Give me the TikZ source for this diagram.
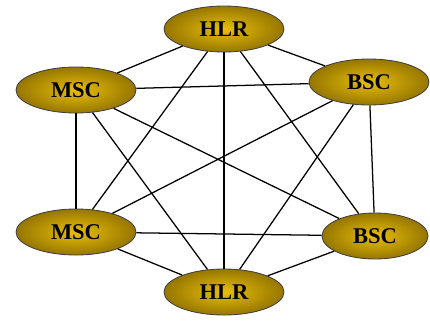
\documentclass[tikz,border=0pt]{standalone}
\usepackage{fontspec}
\setmainfont{Liberation Serif}
\usepackage{tikz}
\usetikzlibrary{positioning,shapes.geometric}

\definecolor{goldin}{RGB}{232,190,10}
\definecolor{goldout}{RGB}{150,118,0}

\begin{document}
\begin{tikzpicture}[-,line width=0.9pt,node distance=1.5 cm,on grid,
  hub/.style={ellipse,draw=black!75,line width=0.6pt,inner color=goldin,outer color=goldout,
    minimum width=3cm,minimum height=1.15cm,inner sep=0pt,
    font=\fontsize{16}{18}\selectfont\bfseries}]
  \useasboundingbox (-5.6,-7.325) rectangle (5.15,0.725);
  \node [hub] (hlr1) {HLR};
  \node [hub,below left=1.525cm and 3.7cm of hlr1] (msc1) {MSC};
  \node [hub,below right=1.325cm and 3.625cm of hlr1] (bsc1) {BSC};
  \node [hub,below=3.55cm of msc1] (msc2) {MSC};
  \node [hub,below right=3.85cm and 0.15cm of bsc1,minimum width=2.65cm] (bsc2) {BSC};
  \node [hub,below=6.575cm of hlr1] (hlr2) {HLR};

  \path (hlr1) edge (msc1);
  \path (hlr1) edge (bsc1);
  \path (hlr1) edge (msc2);
  \path (hlr1) edge (bsc2);
  \path (hlr1) edge (hlr2);
  \path (msc1) edge (bsc1);
  \path (msc1) edge (msc2);
  \path (msc1) edge (bsc2);
  \path (msc1) edge (hlr2);
  \path (bsc1) edge (msc2);
  \path (bsc1) edge (bsc2);
  \path (bsc1) edge (hlr2);
  \path (msc2) edge (bsc2);
  \path (msc2) edge (hlr2);
  \path (bsc2) edge (hlr2);

\end{tikzpicture}
\end{document}
